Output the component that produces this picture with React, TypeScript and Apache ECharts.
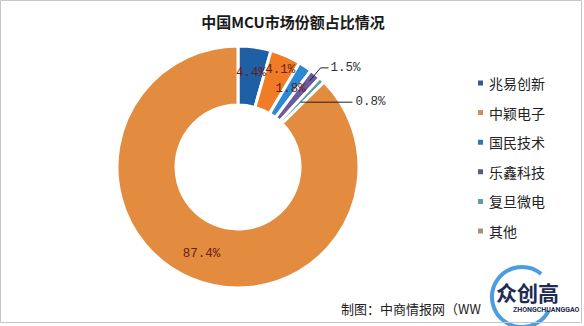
import React, { useEffect, useRef } from "react";
import * as echarts from "echarts";

const titleText = "中国MCU市场份额占比情况";
const sourceText = "制图：中商情报网（WW";
const categories = ["兆易创新", "中颖电子", "国民技术", "乐鑫科技", "复旦微电", "其他"];
const shares = [4.4, 4.1, 1.8, 1.5, 0.8, 87.4];
const sliceColors = ["#1F5FA6", "#F07C28", "#2B88D6", "#6A5AA0", "#5FA0A2", "#E38B3F"];
const legendColors = ["#2F5F88", "#D98B55", "#3179AE", "#5C5B7A", "#619DA1", "#A99274"];
const outsideNames = ["乐鑫科技", "复旦微电"];

const CX = 238;
const CY = 167;
const R0 = 62;
const R1 = 121;

export default function App() {
  const ref = useRef<HTMLDivElement>(null);
  useEffect(() => {
    if (!ref.current) return;
    const chart = echarts.init(ref.current, undefined, { renderer: "svg" });
    const total = shares.reduce((a, b) => a + b, 0);
    const midPoint = (idx: number, rr: number) => {
      let before = 0;
      for (let k = 0; k < idx; k++) before += shares[k];
      const th = ((before + shares[idx] / 2) / total) * Math.PI * 2;
      return [CX + rr * Math.sin(th), CY - rr * Math.cos(th)];
    };
    const i15 = categories.indexOf("乐鑫科技");
    const i08 = categories.indexOf("复旦微电");
    const a0 = midPoint(i15, 112);
    const a1 = midPoint(i15, 129);
    const b0 = midPoint(i08, 90);
    const option: any = {
      animation: false,
      backgroundColor: "#ffffff",
      title: {
        text: titleText,
        left: 288,
        textAlign: "center",
        top: 9,
        textStyle: {
          fontSize: 15,
          fontWeight: "bold",
          color: "#1a1a1a",
          fontFamily: "Noto Sans CJK SC",
        },
      },
      legend: {
        orient: "vertical",
        left: 471,
        top: 71,
        icon: "rect",
        itemWidth: 7,
        itemHeight: 7,
        itemGap: 15.6,
        selectedMode: false,
        textStyle: { fontSize: 14, color: "#222", fontFamily: "Noto Sans CJK SC" },
        data: categories.map((name, i) => ({ name, itemStyle: { color: legendColors[i] } })),
      },
      graphic: [
        {
          type: "rect",
          shape: { x: 0.5, y: 0.5, width: 581, height: 322 },
          style: { fill: "none", stroke: "#c6c6c6", lineWidth: 1 },
          z: 100,
        },
        {
          type: "polyline",
          shape: {
            points: [
              [a0[0], a0[1]],
              [a1[0], a1[1]],
              [a1[0] + 8, a1[1]],
            ],
          },
          style: { stroke: "#222", lineWidth: 1, fill: "none" },
          z: 50,
        },
        {
          type: "line",
          shape: { x1: b0[0], y1: b0[1], x2: b0[0] + 52, y2: b0[1] },
          style: { stroke: "#222", lineWidth: 1 },
          z: 50,
        },
        {
          type: "text",
          left: 341,
          top: 302,
          style: {
            text: sourceText,
            fontSize: 13,
            fill: "#222",
            fontFamily: "Noto Sans CJK SC",
          },
        },
        {
          type: "arc",
          shape: { cx: 522, cy: 297, r: 30, startAngle: Math.PI * 0.15, endAngle: Math.PI * 1.72 },
          style: { stroke: "#2C8BDA", lineWidth: 4, fill: "none", opacity: 0.85 },
          z: 11,
        },
        {
          type: "text",
          left: 496,
          top: 281,
          style: {
            text: "众创高",
            fontSize: 21,
            fontWeight: "bold",
            fill: "#1E2B55",
            fontFamily: "Noto Sans CJK SC",
          },
          z: 12,
        },
        {
          type: "text",
          left: 513,
          top: 306,
          style: {
            text: "ZHONGCHUANGGAO",
            fontSize: 7,
            fontWeight: "bold",
            fill: "#1E2B55",
            fontFamily: "Roboto",
          },
          z: 12,
        },
      ],
      series: [
        {
          type: "pie",
          center: [CX, CY],
          radius: [R0, R1],
          startAngle: 90,
          clockwise: true,
          avoidLabelOverlap: false,
          itemStyle: { borderColor: "#ffffff", borderWidth: 3 },
          label: {
            show: true,
            position: "inside",
            formatter: "{c}%",
            fontFamily: "Liberation Mono",
            fontSize: 12.5,
            color: "#6A1C12",
          },
          labelLine: { show: false },
          emphasis: { disabled: true },
          data: categories.map((name, i) => {
            const outside = outsideNames.indexOf(name) >= 0;
            return {
              name,
              value: shares[i],
              itemStyle: { color: sliceColors[i] },
              label: outside ? { position: "outside", color: "#333" } : undefined,
              labelLine: { show: false },
            };
          }),
          labelLayout: (p: any) => {
            if (p.dataIndex === 1) return { dx: 5, dy: -10 };
            if (p.dataIndex === i15) {
              return { x: a1[0] + 10, y: a1[1], align: "left", verticalAlign: "middle" };
            }
            if (p.dataIndex === i08) {
              return { x: b0[0] + 55, y: b0[1], align: "left", verticalAlign: "middle" };
            }
            return {};
          },
        },
      ],
    };
    chart.setOption(option);
    return () => chart.dispose();
  }, []);
  return (
    <div
      ref={ref}
      style={{ position: "fixed", left: 0, top: 0, width: 584, height: 326 }}
    />
  );
}
